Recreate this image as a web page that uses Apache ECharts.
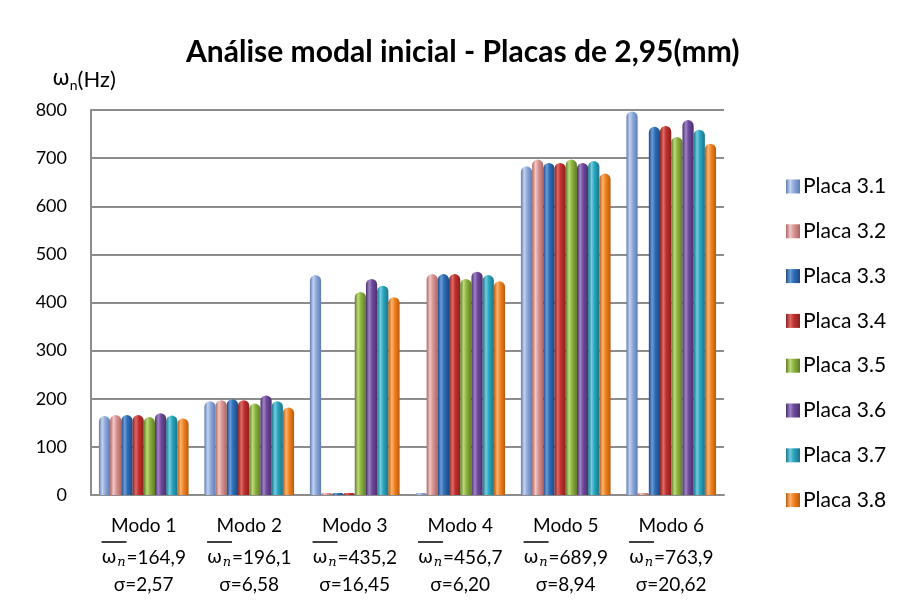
<!DOCTYPE html>
<html>
<head>
<meta charset="utf-8">
<script src="https://cdn.jsdelivr.net/npm/echarts@6/dist/echarts.min.js"></script>
<style>
  html, body { margin: 0; padding: 0; background: #fff; }
  #chart { width: 905px; height: 610px; }
</style>
</head>
<body>
<div id="chart"></div>
<script>
// categorias e estatísticas por modo
const modes = ['Modo 1', 'Modo 2', 'Modo 3', 'Modo 4', 'Modo 5', 'Modo 6']
const meanLabels = ['164,9', '196,1', '435,2', '456,7', '689,9', '763,9']
const sigmaLabels = ['2,57', '6,58', '16,45', '6,20', '8,94', '20,62']
const yTicks = [0, 100, 200, 300, 400, 500, 600, 700, 800]

// frequências naturais (Hz)
const plates = ['Placa 3.1', 'Placa 3.2', 'Placa 3.3', 'Placa 3.4', 'Placa 3.5', 'Placa 3.6', 'Placa 3.7', 'Placa 3.8']
const placa31 = [164, 195, 457, 0, 683, 797]
const placa32 = [166, 197, 0, 459, 697, 0]
const placa33 = [166, 199, 0, 459, 690, 765]
const placa34 = [166, 197, 0, 459, 690, 767]
const placa35 = [162, 190, 422, 449, 697, 744]
const placa36 = [170, 207, 449, 464, 690, 779]
const placa37 = [165, 195, 435, 457, 694, 759]
const placa38 = [159, 182, 411, 444, 668, 730]
const seriesData = [placa31, placa32, placa33, placa34, placa35, placa36, placa37, placa38]

// cor base, borda escura, brilho
const colors = [
  ['#8FAADC', '#5F7DB3', '#C4D3EE'],
  ['#DA9694', '#AE6563', '#F0C8C6'],
  ['#2E6DB8', '#1D4A82', '#6C9DD9'],
  ['#C0312E', '#88201E', '#E06A66'],
  ['#8DB33F', '#5F7D24', '#BCD97C'],
  ['#6E4A9A', '#4A2F6C', '#A184C7'],
  ['#2AA6C0', '#1A7488', '#72CDE0'],
  ['#F28420', '#B95A0D', '#FBB472'],
]

function cylinder(c) {
  return new echarts.graphic.LinearGradient(0, 0, 1, 0, [
    { offset: 0, color: c[1] },
    { offset: 0.3, color: c[2] },
    { offset: 0.55, color: c[0] },
    { offset: 1, color: c[1] },
  ])
}

const FONT = 'Lato'
const chart = echarts.init(document.getElementById('chart'))

chart.setOption({
  animation: false,
  textStyle: { fontFamily: FONT, color: '#000' },
  title: {
    text: 'Análise modal inicial - Placas de 2,95(mm)',
    left: 181,
    top: 32,
    textStyle: { fontFamily: FONT, fontSize: 30, fontWeight: 'bold', color: '#000' },
  },
  legend: {
    orient: 'vertical',
    left: 781,
    top: 171,
    itemWidth: 14,
    itemHeight: 14,
    itemGap: 23.8,
    icon: 'rect',
    data: plates,
    textStyle: { fontFamily: FONT, fontSize: 21, color: '#000', lineHeight: 21, padding: [0, 0, 0, -2] },
  },
  grid: {
    left: 91,
    right: 181,
    top: 110,
    bottom: 115,
  },
  xAxis: {
    type: 'category',
    data: modes,
    axisLine: { lineStyle: { color: '#8c8c8c', width: 2 } },
    axisTick: { show: false },
    axisLabel: {
      margin: 17,
      interval: 0,
      formatter: (v, i) =>
        '{m|' + v + '}\n' +
        '{ol|}{hid|=' + meanLabels[i] + '}\n' +
        '{w|ω}{s|n}{v|=' + meanLabels[i] + '}\n' +
        '{v2|σ=' + sigmaLabels[i] + '}',
      rich: {
        m: { fontFamily: FONT, fontSize: 19, lineHeight: 28, color: '#000' },
        ol: { width: 25, height: 1.5, lineHeight: 4, backgroundColor: '#000' },
        hid: { fontFamily: FONT, fontSize: 19, lineHeight: 4, color: 'rgba(0,0,0,0)' },
        w: { fontFamily: 'DejaVu Sans', fontSize: 18, lineHeight: 28, width: 15, align: 'left', color: '#000' },
        s: { fontFamily: 'DejaVu Serif', fontStyle: 'italic', fontSize: 13, lineHeight: 28, width: 10, padding: [9, 0, 0, 0], color: '#000' },
        v: { fontFamily: FONT, fontSize: 19, lineHeight: 28, color: '#000' },
        v2: { fontFamily: FONT, fontSize: 19, lineHeight: 26, color: '#000' },
      },
    },
  },
  yAxis: {
    type: 'value',
    min: yTicks[0],
    max: yTicks[yTicks.length - 1],
    interval: 100,
    name: '{w|ω}{s|n}{h|(Hz)}',
    nameLocation: 'end',
    nameGap: 18,
    nameTextStyle: {
      padding: [0, 14, 0, 0],
      rich: {
        w: { fontFamily: 'DejaVu Sans', fontSize: 21, color: '#000' },
        s: { fontFamily: FONT, fontSize: 14, padding: [11, 0, 0, 0], color: '#000' },
        h: { fontFamily: FONT, fontSize: 22, color: '#000' },
      },
    },
    axisLine: { show: true, lineStyle: { color: '#8c8c8c', width: 2 } },
    axisTick: { show: false },
    axisLabel: { margin: 24, fontFamily: FONT, fontSize: 18, color: '#000' },
    splitLine: { lineStyle: { color: '#8c8c8c', width: 2 } },
  },
  series: seriesData.map((d, k) => ({
    name: plates[k],
    type: 'bar',
    data: d,
    barGap: '0%',
    barCategoryGap: '15%',
    barMinHeight: 2,
    itemStyle: {
      color: cylinder(colors[k]),
      borderRadius: [6, 6, 0, 0],
    },
  })),
})
</script>
</body>
</html>
